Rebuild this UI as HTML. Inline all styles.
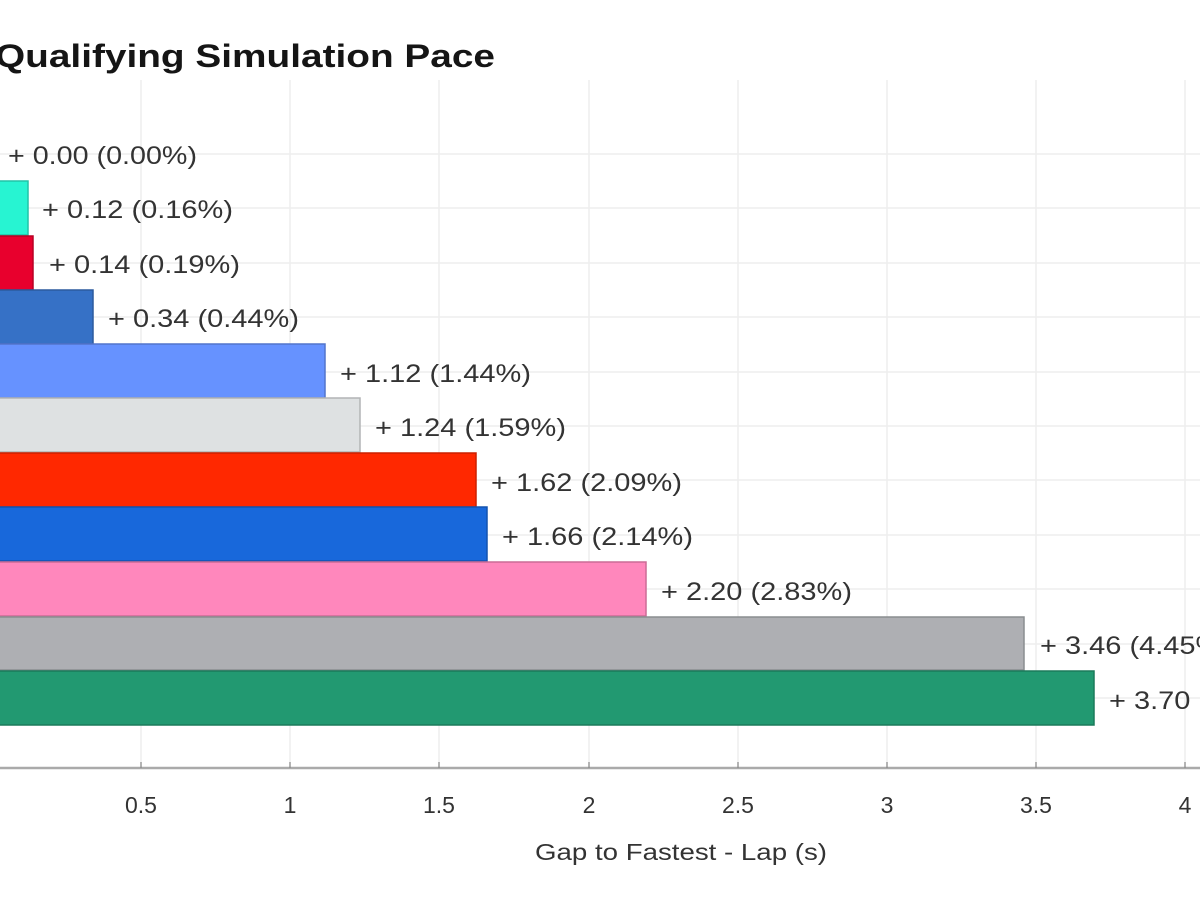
<!DOCTYPE html><html><head><style>body{margin:0;background:#fff}svg{display:block}text{font-family:"Liberation Sans",sans-serif;fill:#333}</style></head><body>
<svg width="1200" height="900" xmlns="http://www.w3.org/2000/svg">
<g stroke="#eeeeee" stroke-width="1.5">
<line x1="141" y1="80" x2="141" y2="768"/><line x1="290" y1="80" x2="290" y2="768"/><line x1="439" y1="80" x2="439" y2="768"/><line x1="589" y1="80" x2="589" y2="768"/><line x1="738" y1="80" x2="738" y2="768"/><line x1="887" y1="80" x2="887" y2="768"/><line x1="1036" y1="80" x2="1036" y2="768"/><line x1="1185" y1="80" x2="1185" y2="768"/>
<line x1="0" y1="154" x2="1200" y2="154"/><line x1="0" y1="208" x2="1200" y2="208"/><line x1="0" y1="263" x2="1200" y2="263"/><line x1="0" y1="317" x2="1200" y2="317"/><line x1="0" y1="372" x2="1200" y2="372"/><line x1="0" y1="426" x2="1200" y2="426"/><line x1="0" y1="480" x2="1200" y2="480"/><line x1="0" y1="535" x2="1200" y2="535"/><line x1="0" y1="589" x2="1200" y2="589"/><line x1="0" y1="644" x2="1200" y2="644"/><line x1="0" y1="698" x2="1200" y2="698"/>
</g>
<text x="-5" y="67" font-size="32" font-weight="bold" textLength="500" lengthAdjust="spacingAndGlyphs" style="fill:#151515">Qualifying Simulation Pace</text>
<g stroke-width="1.5">
<rect x="-10" y="181" width="38" height="54" fill="#27f4d2" stroke="#20c4a8"/>
<rect x="-10" y="236" width="43" height="54" fill="#e8002d" stroke="#b80024"/>
<rect x="-10" y="290" width="103" height="54" fill="#3671c6" stroke="#2b5a9e"/>
<rect x="-10" y="344" width="335" height="54" fill="#6692ff" stroke="#5275cc"/>
<rect x="-10" y="398" width="370" height="54" fill="#dee1e2" stroke="#b2b4b5"/>
<rect x="-10" y="453" width="486" height="54" fill="#ff2800" stroke="#cc2000"/>
<rect x="-10" y="507" width="497" height="54" fill="#1868db" stroke="#1353af"/>
<rect x="-10" y="562" width="656" height="54" fill="#ff87bc" stroke="#cc6c96"/>
<rect x="-10" y="617" width="1034" height="53" fill="#aeafb3" stroke="#8a8d90"/>
<rect x="-10" y="671" width="1104" height="54" fill="#229971" stroke="#1b7a5a"/>
</g>
<g font-size="25">
<text x="8" y="164" textLength="189" lengthAdjust="spacingAndGlyphs">+ 0.00 (0.00%)</text>
<text x="42" y="218" textLength="191" lengthAdjust="spacingAndGlyphs">+ 0.12 (0.16%)</text>
<text x="49" y="273" textLength="191" lengthAdjust="spacingAndGlyphs">+ 0.14 (0.19%)</text>
<text x="108" y="327" textLength="191" lengthAdjust="spacingAndGlyphs">+ 0.34 (0.44%)</text>
<text x="340" y="382" textLength="191" lengthAdjust="spacingAndGlyphs">+ 1.12 (1.44%)</text>
<text x="375" y="436" textLength="191" lengthAdjust="spacingAndGlyphs">+ 1.24 (1.59%)</text>
<text x="491" y="491" textLength="191" lengthAdjust="spacingAndGlyphs">+ 1.62 (2.09%)</text>
<text x="502" y="545" textLength="191" lengthAdjust="spacingAndGlyphs">+ 1.66 (2.14%)</text>
<text x="661" y="600" textLength="191" lengthAdjust="spacingAndGlyphs">+ 2.20 (2.83%)</text>
<text x="1040" y="654" textLength="191" lengthAdjust="spacingAndGlyphs">+ 3.46 (4.45%)</text>
<text x="1109" y="709" textLength="191" lengthAdjust="spacingAndGlyphs">+ 3.70 (4.76%)</text>
</g>
<line x1="0" y1="768" x2="1200" y2="768" stroke="#aaa" stroke-width="2.5"/>
<g stroke="#888" stroke-width="1.2"><line x1="141" y1="762" x2="141" y2="768"/><line x1="290" y1="762" x2="290" y2="768"/><line x1="439" y1="762" x2="439" y2="768"/><line x1="589" y1="762" x2="589" y2="768"/><line x1="738" y1="762" x2="738" y2="768"/><line x1="887" y1="762" x2="887" y2="768"/><line x1="1036" y1="762" x2="1036" y2="768"/><line x1="1185" y1="762" x2="1185" y2="768"/></g>
<g font-size="23" text-anchor="middle" style="fill:#444">
<text x="141" y="813">0.5</text><text x="290" y="813">1</text><text x="439" y="813">1.5</text><text x="589" y="813">2</text><text x="738" y="813">2.5</text><text x="887" y="813">3</text><text x="1036" y="813">3.5</text><text x="1185" y="813">4</text>
<text x="681" y="860" textLength="292" lengthAdjust="spacingAndGlyphs">Gap to Fastest - Lap (s)</text>
</g>
</svg></body></html>
